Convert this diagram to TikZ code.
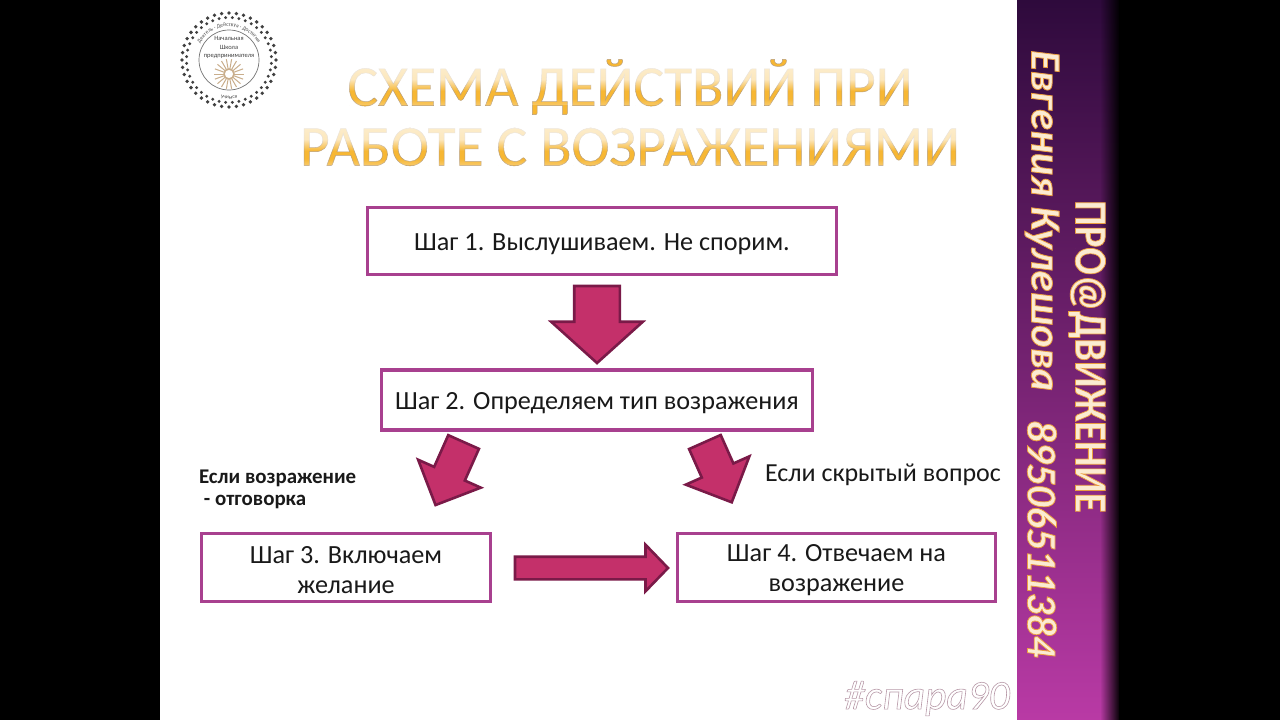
\documentclass[tikz,border=0pt]{standalone}
\usepackage{fontspec}
\setmainfont{Carlito}
\usetikzlibrary{shapes.arrows,fadings,decorations.text,calc}
\definecolor{boxline}{HTML}{A8408F}
\definecolor{arrowfill}{HTML}{C4306A}
\definecolor{arrowline}{HTML}{7A1A48}
\definecolor{titlegold}{HTML}{F7B733}
\definecolor{sidepale}{HTML}{FBEBD2}
\definecolor{logotan}{HTML}{C9AE8C}
\pgfdeclareverticalshading{titleshade}{100bp}{color(0bp)=(white!62!black);color(22bp)=(white!35!black);color(34bp)=(black);color(44bp)=(black);color(60bp)=(white!68!black);color(100bp)=(white!85!black)}
\pgfdeclarefading{titlefade}{\pgfuseshading{titleshade}}
\newcommand{\outlined}[3]{\special{pdf:code q 2 Tr #1 w #2 RG}#3\special{pdf:code Q}}
\newcommand{\dn}[1]{\raisebox{0pt}[\dimexpr\height+6pt][\depth]{#1}}
\tikzset{
  stepbox/.style={draw=boxline,line width=3.6pt,fill=white,inner sep=0pt,outer sep=0pt,align=center,font=\fontsize{26.2}{30}\selectfont,text=black!90},
  blockarrow/.style n args={5}{shape=single arrow,draw=arrowline,fill=arrowfill,line width=2.6pt,anchor=tail,
    minimum height=#1,minimum width=#2,inner xsep=0pt,inner ysep=#3/2,text width=0pt,text height=0pt,text depth=0pt,
    single arrow head extend=#4,single arrow tip angle=#5,single arrow head indent=0pt,outer sep=0pt},
  titletext/.style={font=\fontsize{57.5}{60}\selectfont,text=titlegold,inner sep=0pt},
  sidetext/.style={rotate=-90,text=sidepale,inner sep=0pt},
  plainlabel/.style={inner sep=0pt,text=black!90}
}
\begin{document}
\begin{tikzpicture}[x=1pt,y=1pt]
\useasboundingbox (0,0) rectangle (1280,-720);
\fill[black] (0,0) rectangle (1280,-720);
\fill[white] (160,0) rectangle (1017,-720);
% sidebar
\shade[top color={rgb,255:red,46;green,10;blue,60},middle color={rgb,255:red,122;green,34;blue,125},bottom color={rgb,255:red,185;green,58;blue,165}] (1017,0) rectangle (1119,-720);
\fill[black,path fading=west] (1100,0) rectangle (1120,-720);
% logo
\foreach \a in {0,9,...,351}{\fill[black!75] (229,-60)++(\a:47) circle (1.9);}
\foreach \a in {4.5,13.5,...,355.5}{\fill[black!75] (229,-60)++(\a:42.5) circle (1.6);}
\draw[black!55,line width=.7pt] (229,-60) circle (30);
\foreach \a in {0,20,...,340}{\draw[logotan,line width=1pt] (229,-74)++(\a:5) -- ++(\a:10);}
\draw[logotan,line width=1.5pt] (229,-74) circle (5);
\node[inner sep=0pt,text=black!75,align=center,font=\fontsize{6.5}{8.2}\selectfont] (logotext) at (229,-47.5) {Начальная\\Школа\\предпринимателя};
\path[decorate,decoration={text along path,text align=center,text={|\fontsize{5.5}{6}\selectfont\color{black!70}|Деятель  ·  Действуя  ·  Достигни}}] (229,-60)++(215:33.5) arc (215:-35:33.5);
\path[decorate,decoration={text along path,text align=center,text={|\fontsize{5.5}{6}\selectfont\color{black!70}|Учимся}}] (229,-60)++(250:39) arc (250:290:39);
% title
\node[titletext] (title1) at (630,-87) {\outlined{0.5}{0.72 0.62 0.48}{СХЕМА ДЕЙСТВИЙ ПРИ}};
\node[titletext] (title2) at (630,-147) {\outlined{0.5}{0.72 0.62 0.48}{РАБОТЕ С ВОЗРАЖЕНИЯМИ}};
\fill[white,path fading=titlefade] (340,-68) rectangle (920,-105);
\fill[white,path fading=titlefade] (290,-128) rectangle (970,-165);
% boxes
\node[stepbox,minimum width=469pt,minimum height=67pt] (s1) at (602,-241) {\dn{Шаг 1. Выслушиваем. Не спорим.}};
\node[stepbox,minimum width=431pt,minimum height=60pt] (s2) at (597,-400) {\dn{Шаг 2. Определяем тип возражения}};
\node[stepbox,minimum width=289pt,minimum height=68pt] (s3) at (346,-567.5) {\dn{Шаг 3. Включаем}\\желание};
\node[stepbox,minimum width=318pt,minimum height=68pt] (s4) at (836.5,-567.5) {\dn{Шаг 4. Отвечаем на}\\возражение};
% block arrows
\node[blockarrow={77pt}{89pt}{43pt}{23pt}{96},rotate=-90] (a12) at (597,-286) {};
\node[blockarrow={69pt}{66pt}{31pt}{17.5pt}{90},rotate=-114] (a23) at (463.6,-442) {};
\node[blockarrow={66pt}{67pt}{32pt}{17.5pt}{90},rotate=-66] (a24) at (704.9,-442) {};
\node[blockarrow={153pt}{44pt}{20pt}{12pt}{92},rotate=0] (a34) at (515,-568) {};
% labels
\node[plainlabel,anchor=west,font=\fontsize{20.9}{22}\selectfont\bfseries,align=left] (l1) at (199,-489.5) {Если возражение\\ \ - отговорка};
\node[plainlabel,anchor=west,font=\fontsize{26}{30}\selectfont] (l2) at (765,-474.5) {Если скрытый вопрос};
% sidebar text
\node[sidetext,font=\fontsize{46}{48}\selectfont\bfseries] (side1) at (1087,-356.5) {\scalebox{0.88}[1]{\outlined{0.8}{0.92 0.62 0.25}{ПРО@ДВИЖЕНИЕ}}};
\node[sidetext,font=\fontsize{42.5}{48}\selectfont\itshape\bfseries,anchor=west] (side2) at (1042,-50) {\outlined{0.8}{0.92 0.62 0.25}{Евгения Кулешова}};
\node[sidetext,font=\fontsize{42.5}{48}\selectfont\itshape\bfseries,anchor=west] (side3) at (1042,-420) {\outlined{0.8}{0.92 0.62 0.25}{89506511384}};
% watermark
\node[inner sep=0pt,text=white,font=\fontsize{41.5}{42}\selectfont\itshape] (mark) at (927,-698.5) {\outlined{0.6}{0.72 0.6 0.66}{\#спара90}};
\end{tikzpicture}
\end{document}
